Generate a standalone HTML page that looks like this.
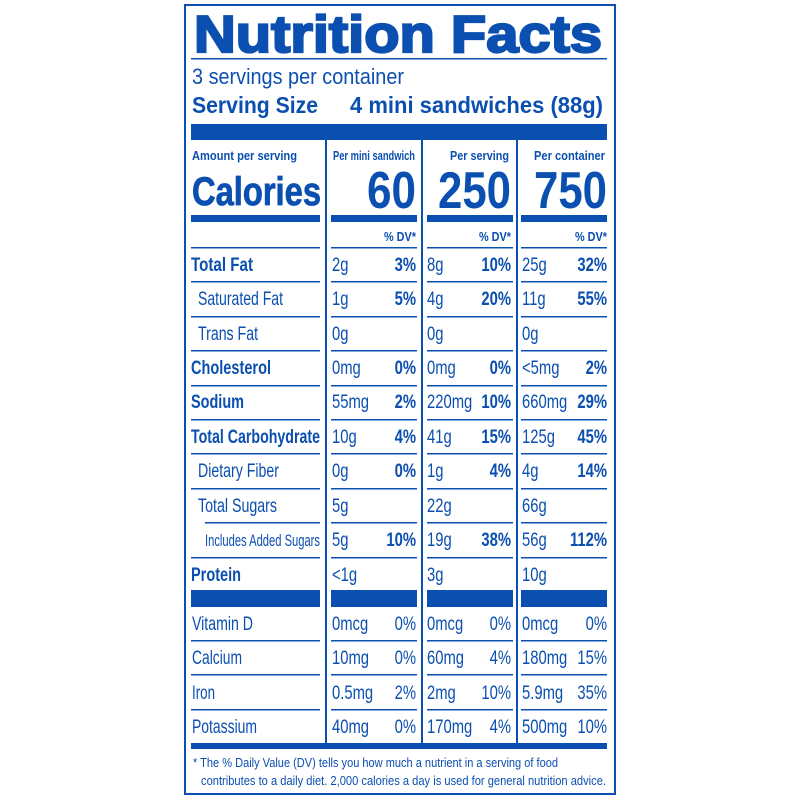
<!DOCTYPE html>
<html><head><meta charset="utf-8"><style>
html,body{margin:0;padding:0;background:#fff;width:800px;height:800px;overflow:hidden}
svg{display:block}
text{font-family:"Liberation Sans",sans-serif;fill:#0b4fb0}
.b{font-weight:bold}
.r{text-anchor:end}
</style></head><body>
<svg width="800" height="800" viewBox="0 0 800 800" xmlns="http://www.w3.org/2000/svg">
<g fill="#0b4fb0" stroke="none">
<rect x="185" y="5" width="430" height="789" fill="none" stroke="#0b4fb0" stroke-width="2"/>
<rect x="191" y="58" width="416" height="1.5"/>
<rect x="191" y="124" width="416" height="16"/>
<rect x="325" y="140" width="2" height="603"/>
<rect x="421" y="140" width="2" height="603"/>
<rect x="516" y="140" width="2" height="603"/>
<rect x="191" y="215" width="129" height="7"/>
<rect x="331" y="215" width="86" height="7"/>
<rect x="427" y="215" width="86" height="7"/>
<rect x="521" y="215" width="86" height="7"/>
<rect x="191" y="590" width="129" height="17"/>
<rect x="331" y="590" width="86" height="17"/>
<rect x="427" y="590" width="86" height="17"/>
<rect x="521" y="590" width="86" height="17"/>
<rect x="191" y="743" width="416" height="6"/>
</g>
<g fill="#0b4fb0">
<rect x="191" y="247" width="129" height="1.5"/><rect x="331" y="247" width="86" height="1.5"/><rect x="427" y="247" width="86" height="1.5"/><rect x="521" y="247" width="86" height="1.5"/>
<rect x="191" y="281" width="129" height="1.5"/><rect x="331" y="281" width="86" height="1.5"/><rect x="427" y="281" width="86" height="1.5"/><rect x="521" y="281" width="86" height="1.5"/>
<rect x="191" y="316" width="129" height="1.5"/><rect x="331" y="316" width="86" height="1.5"/><rect x="427" y="316" width="86" height="1.5"/><rect x="521" y="316" width="86" height="1.5"/>
<rect x="191" y="350" width="129" height="1.5"/><rect x="331" y="350" width="86" height="1.5"/><rect x="427" y="350" width="86" height="1.5"/><rect x="521" y="350" width="86" height="1.5"/>
<rect x="191" y="385" width="129" height="1.5"/><rect x="331" y="385" width="86" height="1.5"/><rect x="427" y="385" width="86" height="1.5"/><rect x="521" y="385" width="86" height="1.5"/>
<rect x="191" y="419" width="129" height="1.5"/><rect x="331" y="419" width="86" height="1.5"/><rect x="427" y="419" width="86" height="1.5"/><rect x="521" y="419" width="86" height="1.5"/>
<rect x="191" y="453" width="129" height="1.5"/><rect x="331" y="453" width="86" height="1.5"/><rect x="427" y="453" width="86" height="1.5"/><rect x="521" y="453" width="86" height="1.5"/>
<rect x="191" y="488" width="129" height="1.5"/><rect x="331" y="488" width="86" height="1.5"/><rect x="427" y="488" width="86" height="1.5"/><rect x="521" y="488" width="86" height="1.5"/>
<rect x="205" y="522" width="115" height="1.5"/><rect x="331" y="522" width="86" height="1.5"/><rect x="427" y="522" width="86" height="1.5"/><rect x="521" y="522" width="86" height="1.5"/>
<rect x="191" y="557" width="129" height="1.5"/><rect x="331" y="557" width="86" height="1.5"/><rect x="427" y="557" width="86" height="1.5"/><rect x="521" y="557" width="86" height="1.5"/>
<rect x="191" y="640" width="129" height="1.5"/><rect x="331" y="640" width="86" height="1.5"/><rect x="427" y="640" width="86" height="1.5"/><rect x="521" y="640" width="86" height="1.5"/>
<rect x="191" y="674" width="129" height="1.5"/><rect x="331" y="674" width="86" height="1.5"/><rect x="427" y="674" width="86" height="1.5"/><rect x="521" y="674" width="86" height="1.5"/>
<rect x="191" y="709" width="129" height="1.5"/><rect x="331" y="709" width="86" height="1.5"/><rect x="427" y="709" width="86" height="1.5"/><rect x="521" y="709" width="86" height="1.5"/>
</g>

<text x="194" y="52" font-size="52" class="b" stroke="#0b4fb0" stroke-width="2.2" textLength="408" lengthAdjust="spacingAndGlyphs">Nutrition Facts</text>
<text x="192" y="84" font-size="22" textLength="212" lengthAdjust="spacingAndGlyphs">3 servings per container</text>
<text x="192" y="113" font-size="23" class="b" textLength="126" lengthAdjust="spacingAndGlyphs">Serving Size</text>
<text x="350" y="113" font-size="23" class="b" textLength="253" lengthAdjust="spacingAndGlyphs">4 mini sandwiches (88g)</text>

<text x="192" y="160" font-size="13" class="b" textLength="105" lengthAdjust="spacingAndGlyphs">Amount per serving</text>
<text x="333" y="160" font-size="13" class="b" textLength="82" lengthAdjust="spacingAndGlyphs">Per mini sandwich</text>
<text x="450" y="160" font-size="13" class="b" textLength="59" lengthAdjust="spacingAndGlyphs">Per serving</text>
<text x="534" y="160" font-size="13" class="b" textLength="71" lengthAdjust="spacingAndGlyphs">Per container</text>

<text x="192" y="205" font-size="40" class="b" stroke="#0b4fb0" stroke-width="0.8" textLength="129" lengthAdjust="spacingAndGlyphs">Calories</text>
<text x="367" y="208" font-size="52" class="b" textLength="49" lengthAdjust="spacingAndGlyphs">60</text>
<text x="438" y="208" font-size="52" class="b" textLength="73" lengthAdjust="spacingAndGlyphs">250</text>
<text x="534" y="208" font-size="52" class="b" textLength="73" lengthAdjust="spacingAndGlyphs">750</text>

<text x="384" y="241" font-size="13" class="b" textLength="32" lengthAdjust="spacingAndGlyphs">% DV*</text>
<text x="479" y="241" font-size="13" class="b" textLength="32" lengthAdjust="spacingAndGlyphs">% DV*</text>
<text x="575" y="241" font-size="13" class="b" textLength="32" lengthAdjust="spacingAndGlyphs">% DV*</text>

<g font-size="19">
<text x="191" y="271" class="b" textLength="62" lengthAdjust="spacingAndGlyphs">Total Fat</text>
<text x="198" y="305" textLength="85" lengthAdjust="spacingAndGlyphs">Saturated Fat</text>
<text x="198" y="340" textLength="60" lengthAdjust="spacingAndGlyphs">Trans Fat</text>
<text x="191" y="374" class="b" textLength="80" lengthAdjust="spacingAndGlyphs">Cholesterol</text>
<text x="191" y="408" class="b" textLength="53" lengthAdjust="spacingAndGlyphs">Sodium</text>
<text x="191" y="443" class="b" textLength="129" lengthAdjust="spacingAndGlyphs">Total Carbohydrate</text>
<text x="198" y="477" textLength="81" lengthAdjust="spacingAndGlyphs">Dietary Fiber</text>
<text x="198" y="512" textLength="79" lengthAdjust="spacingAndGlyphs">Total Sugars</text>
<text x="205" y="546" font-size="17" textLength="115" lengthAdjust="spacingAndGlyphs">Includes Added Sugars</text>
<text x="191" y="581" class="b" textLength="50" lengthAdjust="spacingAndGlyphs">Protein</text>
<text x="192" y="630" textLength="61" lengthAdjust="spacingAndGlyphs">Vitamin D</text>
<text x="192" y="664" textLength="50" lengthAdjust="spacingAndGlyphs">Calcium</text>
<text x="192" y="699" textLength="23" lengthAdjust="spacingAndGlyphs">Iron</text>
<text x="192" y="733" textLength="65" lengthAdjust="spacingAndGlyphs">Potassium</text>

<!-- col1 left -->
<g transform="translate(332,0) scale(0.78,1)">
<text x="0" y="271">2g</text><text x="0" y="305">1g</text><text x="0" y="340">0g</text>
<text x="0" y="374">0mg</text><text x="0" y="408">55mg</text><text x="0" y="443">10g</text>
<text x="0" y="477">0g</text><text x="0" y="512">5g</text><text x="0" y="546">5g</text>
<text x="0" y="581">&lt;1g</text><text x="0" y="630">0mcg</text><text x="0" y="664">10mg</text>
<text x="0" y="699">0.5mg</text><text x="0" y="733">40mg</text>
</g>
<g transform="translate(416,0) scale(0.78,1)">
<text x="0" y="271" class="b r">3%</text><text x="0" y="305" class="b r">5%</text>
<text x="0" y="374" class="b r">0%</text><text x="0" y="408" class="b r">2%</text>
<text x="0" y="443" class="b r">4%</text><text x="0" y="477" class="b r">0%</text>
<text x="0" y="546" class="b r">10%</text>
<text x="0" y="630" class="r">0%</text><text x="0" y="664" class="r">0%</text>
<text x="0" y="699" class="r">2%</text><text x="0" y="733" class="r">0%</text>
</g>
<!-- col2 -->
<g transform="translate(427,0) scale(0.78,1)">
<text x="0" y="271">8g</text><text x="0" y="305">4g</text><text x="0" y="340">0g</text>
<text x="0" y="374">0mg</text><text x="0" y="408">220mg</text><text x="0" y="443">41g</text>
<text x="0" y="477">1g</text><text x="0" y="512">22g</text><text x="0" y="546">19g</text>
<text x="0" y="581">3g</text><text x="0" y="630">0mcg</text><text x="0" y="664">60mg</text>
<text x="0" y="699">2mg</text><text x="0" y="733">170mg</text>
</g>
<g transform="translate(511,0) scale(0.78,1)">
<text x="0" y="271" class="b r">10%</text><text x="0" y="305" class="b r">20%</text>
<text x="0" y="374" class="b r">0%</text><text x="0" y="408" class="b r">10%</text>
<text x="0" y="443" class="b r">15%</text><text x="0" y="477" class="b r">4%</text>
<text x="0" y="546" class="b r">38%</text>
<text x="0" y="630" class="r">0%</text><text x="0" y="664" class="r">4%</text>
<text x="0" y="699" class="r">10%</text><text x="0" y="733" class="r">4%</text>
</g>
<!-- col3 -->
<g transform="translate(522,0) scale(0.78,1)">
<text x="0" y="271">25g</text><text x="0" y="305">11g</text><text x="0" y="340">0g</text>
<text x="0" y="374">&lt;5mg</text><text x="0" y="408">660mg</text><text x="0" y="443">125g</text>
<text x="0" y="477">4g</text><text x="0" y="512">66g</text><text x="0" y="546">56g</text>
<text x="0" y="581">10g</text><text x="0" y="630">0mcg</text><text x="0" y="664">180mg</text>
<text x="0" y="699">5.9mg</text><text x="0" y="733">500mg</text>
</g>
<g transform="translate(607,0) scale(0.78,1)">
<text x="0" y="271" class="b r">32%</text><text x="0" y="305" class="b r">55%</text>
<text x="0" y="374" class="b r">2%</text><text x="0" y="408" class="b r">29%</text>
<text x="0" y="443" class="b r">45%</text><text x="0" y="477" class="b r">14%</text>
<text x="0" y="546" class="b r">112%</text>
<text x="0" y="630" class="r">0%</text><text x="0" y="664" class="r">15%</text>
<text x="0" y="699" class="r">35%</text><text x="0" y="733" class="r">10%</text>
</g>
</g>

<text x="193" y="767" font-size="13" textLength="365" lengthAdjust="spacingAndGlyphs">* The % Daily Value (DV) tells you how much a nutrient in a serving of food</text>
<text x="201" y="785" font-size="13" textLength="405" lengthAdjust="spacingAndGlyphs">contributes to a daily diet. 2,000 calories a day is used for general nutrition advice.</text>
</svg>
</body></html>
